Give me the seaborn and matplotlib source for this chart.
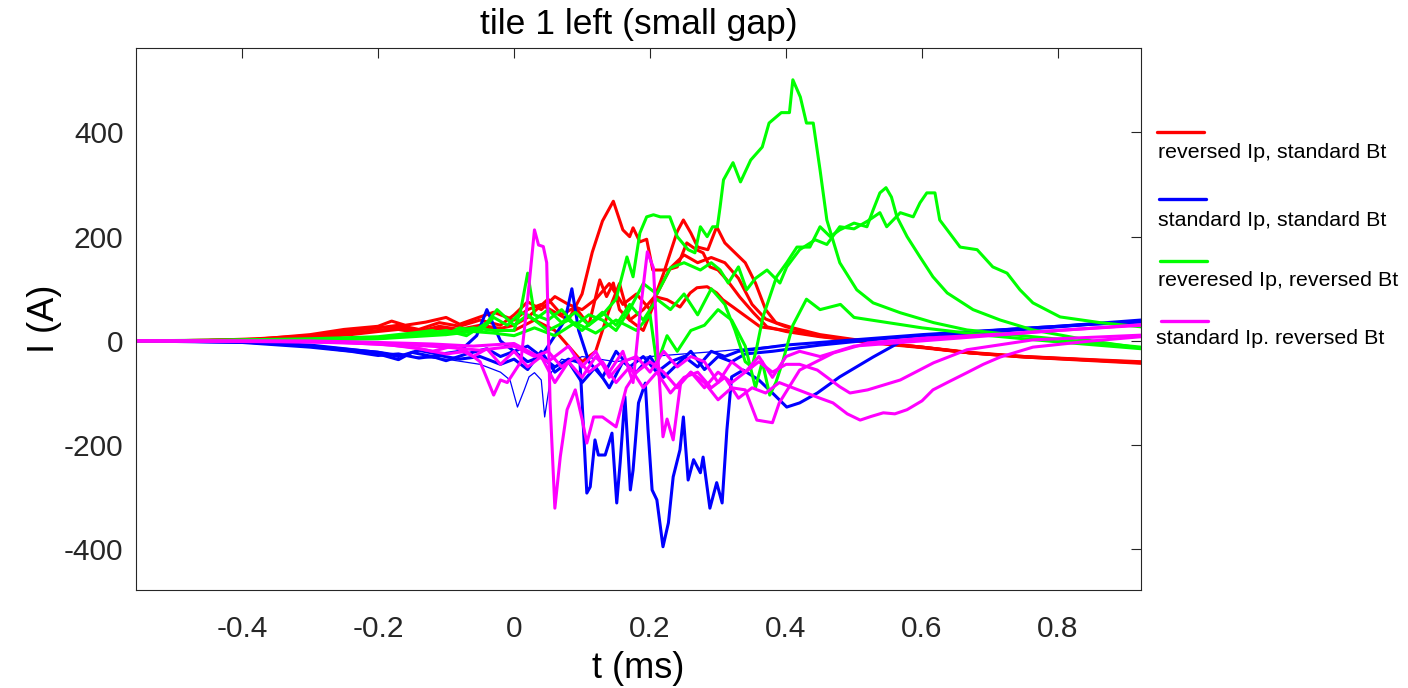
import numpy as np
import pandas as pd
import matplotlib
matplotlib.use("Agg")
import matplotlib.pyplot as plt
from matplotlib.lines import Line2D
import seaborn as sns

# ---------------- data (t in ms, I in A) ----------------
series_labels = ["reversed Ip, standard Bt", "standard Ip, standard Bt",
                 "reveresed Ip, reversed Bt", "standard Ip. reversed Bt"]
series_colors = ["#ff0000", "#0000ff", "#00ff00", "#ff00ff"]

# red: reversed Ip, standard Bt
t_r1 = [-0.556,-0.45,-0.38,-0.3,-0.25,-0.2,-0.18,-0.16,-0.13,-0.1,-0.08,-0.05,-0.03,0.0,0.02,0.04,0.06,0.08,0.1,0.115,0.13,0.146,0.16,0.17,0.175,0.185,0.195,0.204,0.225,0.24,0.254,0.268,0.278,0.288,0.3,0.313,0.332,0.352,0.372,0.4,0.45,0.52,0.6,0.67,0.75,0.85,0.922]
i_r1 = [0,1,3,12,22,28,38,30,36,45,32,46,55,40,60,70,55,40,90,170,230,268,213,200,217,190,195,136,136,142,188,175,169,142,136,117,84,54,27,18,8,-2,-12,-23,-30,-37,-42]
t_r2 = [-0.556,-0.45,-0.38,-0.3,-0.25,-0.2,-0.17,-0.14,-0.11,-0.08,-0.05,-0.02,0.0,0.02,0.04,0.06,0.08,0.1,0.12,0.14,0.16,0.18,0.2,0.22,0.24,0.249,0.26,0.27,0.285,0.298,0.31,0.325,0.34,0.355,0.37,0.385,0.41,0.45,0.52,0.6,0.67,0.75,0.85,0.922]
i_r2 = [0,1,4,10,18,25,30,22,35,28,40,30,50,75,60,85,70,60,80,110,70,90,60,130,210,232,207,180,175,219,188,169,150,111,60,35,25,12,-1,-12,-23,-31,-37,-41]
t_r3 = [-0.556,-0.45,-0.38,-0.3,-0.24,-0.2,-0.17,-0.14,-0.11,-0.08,-0.05,-0.02,0.0,0.02,0.05,0.07,0.09,0.11,0.126,0.136,0.146,0.155,0.17,0.19,0.21,0.23,0.25,0.27,0.29,0.31,0.33,0.35,0.37,0.4,0.45,0.52,0.6,0.67,0.75,0.85,0.922]
i_r3 = [0,1,3,8,15,20,26,18,28,22,30,24,30,45,80,50,65,30,117,85,111,60,40,60,90,140,165,150,160,150,120,70,42,27,10,-2,-12,-22,-30,-36,-40]
t_r4 = [-0.556,-0.45,-0.38,-0.3,-0.24,-0.2,-0.17,-0.14,-0.11,-0.08,-0.05,-0.02,0.0,0.03,0.06,0.08,0.1,0.12,0.14,0.155,0.17,0.19,0.21,0.225,0.244,0.259,0.269,0.284,0.298,0.307,0.322,0.342,0.362,0.4,0.45,0.52,0.6,0.67,0.75,0.85,0.922]
i_r4 = [0,1,2,6,12,18,22,15,24,18,26,20,20,40,20,-10,-40,-20,60,110,40,20,84,79,65,92,102,104,92,79,65,46,27,20,9,-3,-13,-23,-31,-38,-43]

# blue: standard Ip, standard Bt
t_b1 = [-0.556,-0.4,-0.3,-0.25,-0.2,-0.17,-0.15,-0.12,-0.1,-0.07,-0.04,-0.02,0.0,0.02,0.04,0.06,0.08,0.097,0.107,0.112,0.119,0.124,0.134,0.144,0.151,0.156,0.163,0.171,0.175,0.183,0.193,0.197,0.203,0.21,0.219,0.227,0.234,0.244,0.249,0.256,0.264,0.274,0.278,0.288,0.298,0.306,0.313,0.32,0.337,0.36,0.38,0.401,0.42,0.446,0.479,0.528,0.568,0.65,0.75,0.85,0.922]
i_b1 = [0,-2,-10,-18,-25,-36,-22,-30,-38,-25,-15,-30,-20,-40,-30,-50,-35,-42,-292,-280,-190,-219,-219,-177,-311,-234,-107,-286,-248,-119,-81,-171,-286,-305,-395,-349,-261,-209,-146,-267,-228,-253,-223,-321,-272,-311,-171,-69,-56,-75,-100,-127,-119,-100,-69,-31,-2,12,22,32,38]
t_b2 = [-0.556,-0.4,-0.3,-0.25,-0.2,-0.17,-0.14,-0.11,-0.08,-0.055,-0.04,-0.02,0.0,0.02,0.04,0.06,0.075,0.085,0.095,0.11,0.13,0.15,0.17,0.19,0.21,0.23,0.25,0.27,0.29,0.31,0.33,0.36,0.4,0.5,0.6,0.7,0.8,0.922]
i_b2 = [0,-2,-8,-15,-22,-30,-18,-26,-20,10,60,0,-20,-10,-30,10,40,100,20,-40,-70,-20,-50,-30,-60,-40,-30,-50,-20,-30,-20,-15,-8,2,12,20,28,40]
t_b3 = [-0.556,-0.4,-0.3,-0.24,-0.2,-0.17,-0.14,-0.11,-0.08,-0.05,-0.02,0.0,0.02,0.04,0.06,0.08,0.1,0.12,0.14,0.16,0.18,0.2,0.22,0.24,0.26,0.28,0.3,0.32,0.34,0.38,0.45,0.55,0.65,0.75,0.85,0.922]
i_b3 = [0,-3,-12,-20,-28,-25,-33,-28,-35,-30,-45,-35,-55,-20,-60,-40,-80,-50,-90,-40,-60,-30,-70,-45,-20,-55,-30,-40,-25,-20,-8,5,15,24,32,36]
t_b4 = [-0.556,-0.4,-0.3,-0.2,-0.15,-0.1,-0.05,-0.02,-0.006,0.005,0.015,0.022,0.03,0.04,0.045,0.055,0.07,0.085,0.1,0.15,0.2,0.3,0.4,0.6,0.8,0.922]
i_b4 = [0,-2,-8,-20,-30,-35,-45,-60,-75,-127,-94,-69,-61,-75,-146,-60,-35,-40,-30,-40,-30,-20,-8,12,28,37]

# green: reveresed Ip, reversed Bt
t_g1 = [-0.556,-0.4,-0.3,-0.2,-0.15,-0.12,-0.1,-0.08,-0.05,-0.03,-0.01,0.01,0.03,0.05,0.07,0.09,0.11,0.13,0.15,0.166,0.175,0.185,0.195,0.205,0.215,0.229,0.24,0.256,0.266,0.274,0.284,0.292,0.299,0.303,0.308,0.322,0.333,0.348,0.365,0.375,0.393,0.405,0.41,0.421,0.43,0.44,0.45,0.46,0.479,0.504,0.528,0.568,0.617,0.666,0.763,0.85,0.922]
i_g1 = [0,2,4,8,15,20,12,25,18,45,30,55,40,60,35,55,30,50,80,161,123,207,238,242,238,238,200,175,169,219,200,219,219,257,309,342,305,347,372,418,438,438,501,468,418,418,328,232,150,98,73,54,35,21,8,-3,-12]
t_g2 = [-0.556,-0.4,-0.3,-0.2,-0.15,-0.1,-0.07,-0.04,-0.025,0.0,0.02,0.05,0.08,0.1,0.13,0.15,0.17,0.19,0.21,0.23,0.25,0.27,0.29,0.31,0.325,0.34,0.35,0.357,0.366,0.386,0.401,0.416,0.435,0.45,0.465,0.479,0.5,0.519,0.528,0.538,0.547,0.555,0.563,0.578,0.597,0.616,0.637,0.675,0.715,0.763,0.85,0.922]
i_g2 = [0,1,3,5,10,20,10,35,60,30,50,20,40,20,55,30,70,40,80,60,90,50,100,70,20,-40,-50,-12,46,123,150,180,180,219,200,213,226,219,251,284,294,276,238,200,161,123,92,60,40,21,0,-14]
t_g3 = [-0.556,-0.4,-0.3,-0.2,-0.15,-0.1,-0.06,-0.03,0.0,0.01,0.02,0.03,0.05,0.07,0.09,0.11,0.13,0.15,0.17,0.19,0.21,0.23,0.25,0.274,0.29,0.303,0.315,0.33,0.342,0.355,0.372,0.391,0.401,0.42,0.443,0.46,0.479,0.5,0.52,0.538,0.548,0.568,0.587,0.597,0.607,0.619,0.626,0.637,0.656,0.681,0.704,0.725,0.744,0.763,0.803,0.862,0.922]
i_g3 = [0,1,2,6,10,15,25,20,20,60,130,50,40,60,30,50,40,20,60,110,90,140,150,136,150,136,111,142,98,120,136,111,142,175,194,185,219,215,230,246,219,246,238,265,284,284,232,213,180,175,142,130,98,73,46,35,27]
t_g4 = [-0.556,-0.4,-0.3,-0.2,-0.15,-0.1,-0.06,-0.03,0.0,0.03,0.06,0.09,0.12,0.15,0.18,0.2,0.21,0.225,0.24,0.26,0.28,0.3,0.32,0.34,0.355,0.365,0.376,0.385,0.395,0.41,0.43,0.45,0.48,0.5,0.55,0.6,0.7,0.8,0.922]
i_g4 = [0,1,2,4,8,12,18,15,10,25,10,35,15,40,20,50,-45,10,-20,20,30,60,40,-10,-90,-40,-104,-80,-40,30,80,60,70,45,35,25,10,-2,-15]

# magenta: standard Ip. reversed Bt
t_m1 = [-0.556,-0.35,-0.25,-0.18,-0.14,-0.1,-0.07,-0.05,-0.03,-0.02,-0.01,0.0,0.01,0.02,0.03,0.036,0.043,0.048,0.053,0.06,0.068,0.078,0.09,0.1,0.107,0.117,0.13,0.15,0.165,0.18,0.2,0.22,0.24,0.26,0.28,0.3,0.32,0.34,0.357,0.38,0.39,0.42,0.47,0.52,0.6,0.7,0.8,0.922]
i_m1 = [0,-1,-3,-8,-15,-25,-20,-40,-104,-75,-80,-60,-40,80,213,184,181,150,-120,-321,-222,-132,-94,-150,-196,-146,-146,-165,-90,-60,-40,-60,-90,-60,-80,-113,-90,-94,-152,-157,-119,-56,-23,-4,5,12,20,30]
t_m2 = [-0.556,-0.3,-0.2,-0.15,-0.12,-0.09,-0.06,-0.04,-0.02,0.0,0.02,0.04,0.06,0.08,0.1,0.12,0.14,0.16,0.175,0.185,0.196,0.205,0.212,0.219,0.225,0.234,0.245,0.26,0.28,0.3,0.32,0.34,0.36,0.38,0.4,0.42,0.446,0.479,0.494,0.52,0.568,0.617,0.666,0.763,0.922]
i_m2 = [0,-2,-6,-12,-20,-10,-30,-15,-45,-20,-50,-30,-80,-40,-70,-30,-60,-20,-80,50,171,140,-40,-184,-150,-190,-80,-60,-90,-60,-80,-60,-40,-60,-45,-45,-56,-88,-100,-94,-75,-42,-17,2,11]
t_m3 = [-0.556,-0.3,-0.2,-0.15,-0.1,-0.05,0.0,0.03,0.05,0.07,0.09,0.11,0.13,0.15,0.17,0.19,0.21,0.23,0.25,0.27,0.29,0.31,0.33,0.35,0.37,0.39,0.41,0.43,0.45,0.469,0.49,0.509,0.525,0.543,0.56,0.578,0.6,0.616,0.64,0.666,0.69,0.715,0.763,0.85,0.922]
i_m3 = [0,-1,-4,-8,-12,-18,-10,-30,-20,-50,-30,-60,-40,-80,-50,-90,-60,-100,-70,-60,-90,-70,-110,-90,-100,-80,-90,-100,-110,-119,-140,-152,-145,-138,-140,-132,-115,-94,-78,-61,-45,-31,-12,0,8]
t_m4 = [-0.556,-0.3,-0.2,-0.12,-0.06,0.0,0.05,0.08,0.1,0.12,0.14,0.16,0.18,0.2,0.22,0.24,0.26,0.28,0.3,0.32,0.34,0.36,0.38,0.4,0.42,0.45,0.5,0.55,0.6,0.7,0.8,0.922]
i_m4 = [0,0,-3,-6,-10,-5,-40,-10,-50,-20,-70,-40,-30,-60,-20,-50,-30,-40,-80,-40,-60,-30,-70,-30,-20,-30,-10,-5,0,10,20,31]

traces = [
    ("r1", 0, t_r1, i_r1, "thick"), ("r2", 0, t_r2, i_r2, "thick"),
    ("r3", 0, t_r3, i_r3, "thick"), ("r4", 0, t_r4, i_r4, "thick"),
    ("b1", 1, t_b1, i_b1, "thick"), ("b2", 1, t_b2, i_b2, "thick"),
    ("b3", 1, t_b3, i_b3, "thick"), ("b4", 1, t_b4, i_b4, "thin"),
    ("g1", 2, t_g1, i_g1, "thick"), ("g2", 2, t_g2, i_g2, "thick"),
    ("g3", 2, t_g3, i_g3, "thick"), ("g4", 2, t_g4, i_g4, "thick"),
    ("m1", 3, t_m1, i_m1, "thick"), ("m2", 3, t_m2, i_m2, "thick"),
    ("m3", 3, t_m3, i_m3, "thick"), ("m4", 3, t_m4, i_m4, "thick"),
]

x_ticks = [-0.4, -0.2, 0, 0.2, 0.4, 0.6, 0.8]
x_tick_labels = ["-0.4", "-0.2", "0", "0.2", "0.4", "0.6", "0.8"]
y_ticks = [-400, -200, 0, 200, 400]
y_tick_labels = ["-400", "-200", "0", "200", "400"]

rows = []
for name, gi, tt, ii, w in traces:
    for a, b in zip(tt, ii):
        rows.append({"t": a, "I": b, "group": series_labels[gi], "trace": name, "w": w})
df = pd.DataFrame(rows)

# ---------------- plotting ----------------
sns.set_style("white")
plt.rcParams["font.family"] = ["Liberation Sans", "DejaVu Sans"]

fig = plt.figure(figsize=(14.08, 6.88), dpi=100)
ax = fig.add_axes([136/1408, 1-590/688, (1141-136)/1408, (590-48)/688])

sns.lineplot(data=df, x="t", y="I", hue="group", hue_order=series_labels,
             palette=dict(zip(series_labels, series_colors)),
             units="trace", estimator=None, sort=False,
             size="w", sizes={"thick": 2.2, "thin": 0.9}, size_order=["thick", "thin"],
             legend=False, ax=ax)

ax.set_xlim(-0.556, 0.922)
ax.set_ylim(-478, 562)
ax.set_xticks(x_ticks)
ax.set_xticklabels(x_tick_labels)
ax.set_yticks(y_ticks)
ax.set_yticklabels(y_tick_labels)
ax.tick_params(direction="in", length=7, width=0.8, colors="#262626",
               labelsize=21.5, top=True, right=True)
ax.tick_params(axis="x", pad=18)
ax.tick_params(axis="y", pad=9)
for s in ax.spines.values():
    s.set_color("#262626")
    s.set_linewidth(0.8)
ax.set_xlabel("t (ms)", fontsize=26, color="black", labelpad=6)
ax.set_ylabel("I (A)", fontsize=26, color="black", labelpad=1)
ax.set_title("tile 1 left (small gap)", fontsize=25.5, color="black", pad=10)

# legend (line sample above each text, as in the reference)
leg_line_y = [132, 199, 261, 321]
leg_text_y = [152, 221, 281, 339]
leg_x0 = [1157, 1159, 1160, 1161]
leg_tx = [1158, 1158, 1158, 1156]
for k in range(4):
    fig.add_artist(Line2D([leg_x0[k]/1408, (leg_x0[k]+47)/1408],
                          [1-leg_line_y[k]/688, 1-leg_line_y[k]/688],
                          color=series_colors[k], lw=2.4, transform=fig.transFigure))
    fig.text(leg_tx[k]/1408, 1-leg_text_y[k]/688, series_labels[k], fontsize=15.4,
             color="black", ha="left", va="center")

fig.savefig("out.png", dpi=100)
